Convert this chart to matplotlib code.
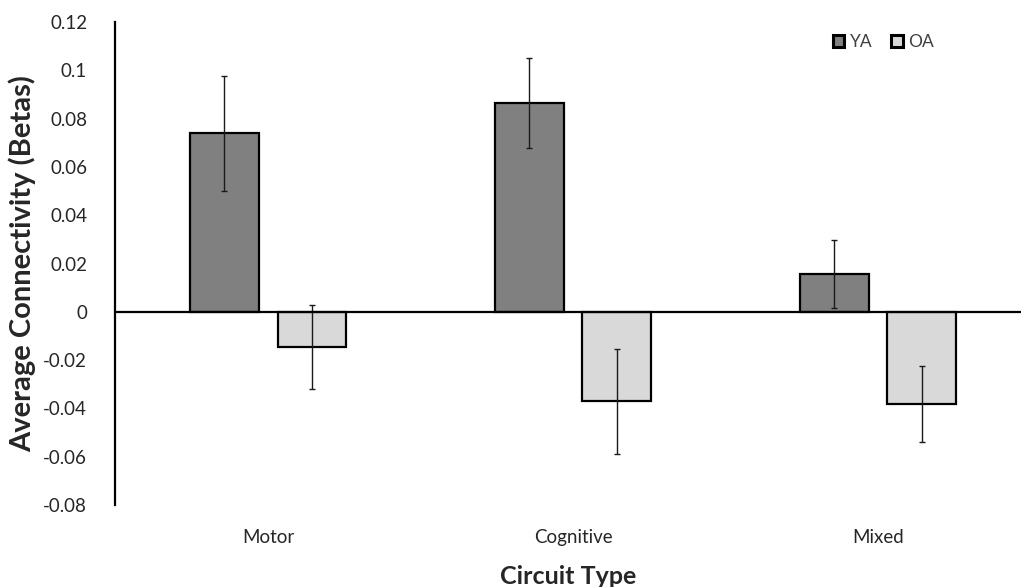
import matplotlib.pyplot as plt
import numpy as np

categories = ["Motor", "Cognitive", "Mixed"]
ya_values = [0.0739, 0.0864, 0.0157]
ya_errors = [0.0237, 0.0187, 0.0140]
oa_values = [-0.0146, -0.0370, -0.0381]
oa_errors = [0.0173, 0.0217, 0.0157]
y_ticks = [-0.08, -0.06, -0.04, -0.02, 0, 0.02, 0.04, 0.06, 0.08, 0.1, 0.12]
y_tick_labels = ["-0.08", "-0.06", "-0.04", "-0.02", "0", "0.02", "0.04",
                 "0.06", "0.08", "0.1", "0.12"]

plt.rcParams['font.family'] = ['Lato', 'DejaVu Sans']

fig = plt.figure(figsize=(10.21, 5.87), dpi=100)
ax = fig.add_axes([0.1126, 0.1397, 0.8874, 0.8228])

x = np.arange(len(categories))
width = 0.226
offset = 0.144
err_style = dict(ecolor='#1a1a1a', elinewidth=1.0, capsize=2.5, capthick=1.0)

ax.bar(x - offset, ya_values, width, color='#808080', edgecolor='black',
       linewidth=1.6, label='YA', yerr=ya_errors, error_kw=err_style, zorder=2)
ax.bar(x + offset, oa_values, width, color='#d9d9d9', edgecolor='black',
       linewidth=1.6, label='OA', yerr=oa_errors, error_kw=err_style, zorder=2)

ax.axhline(0, color='black', linewidth=1.6, zorder=3)

ax.set_xlim(-0.502, 2.469)
ax.set_ylim(-0.08, 0.12)
ax.set_yticks(y_ticks)
ax.set_yticklabels(y_tick_labels)
ax.set_xticks(x)
ax.set_xticklabels(categories)
ax.tick_params(axis='y', length=0, pad=20, labelsize=13.5, labelcolor='#262626')
ax.tick_params(axis='x', length=0, pad=17, labelsize=13.5, labelcolor='#262626')

for s in ['top', 'right', 'bottom']:
    ax.spines[s].set_visible(False)
ax.spines['left'].set_linewidth(1.6)

ax.set_ylabel('Average Connectivity (Betas)', fontsize=21, fontweight='bold',
              color='#262626', labelpad=5)
ax.set_xlabel('Circuit Type', fontsize=18, fontweight='bold', color='#262626',
              labelpad=14)

leg = ax.legend(loc='center', bbox_to_anchor=(0.848, 0.959), ncol=2, frameon=False,
                fontsize=12.5, handlelength=0.65, handleheight=0.65,
                handletextpad=0.3, columnspacing=1.1, labelcolor='#404040')
for h in leg.legend_handles:
    h.set_linewidth(2.2)

fig.savefig('out.png', dpi=100)
